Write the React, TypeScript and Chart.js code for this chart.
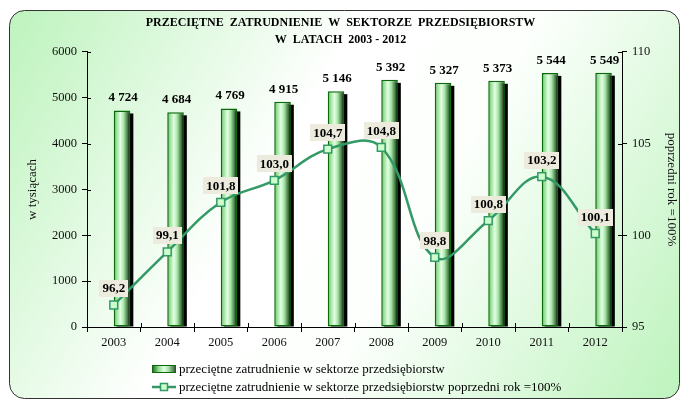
import React, { useEffect, useRef } from 'react';
import { Chart, registerables } from 'chart.js';

Chart.register(...registerables);

const chartTitle = ['PRZECIĘTNE  ZATRUDNIENIE  W  SEKTORZE  PRZEDSIĘBIORSTW', 'W  LATACH  2003 - 2012'];
const years = ['2003', '2004', '2005', '2006', '2007', '2008', '2009', '2010', '2011', '2012'];
const employment = [4724, 4684, 4769, 4915, 5146, 5392, 5327, 5373, 5544, 5549];
const indexPrevYear = [96.2, 99.1, 101.8, 103.0, 104.7, 104.8, 98.8, 100.8, 103.2, 100.1];
const leftAxisTitle = 'w tysiącach';
const rightAxisTitle = 'poprzedni rok =100%';
const barSeriesName = 'przeciętne zatrudnienie w sektorze przedsiębiorstw';
const lineSeriesName = 'przeciętne zatrudnienie w sektorze przedsiębiorstw poprzedni rok =100%';
const leftMin = 0;
const leftMax = 6000;
const leftStep = 1000;
const rightMin = 95;
const rightMax = 110;
const rightStep = 5;

const FONT = "'Liberation Serif', 'Times New Roman', serif";
const CAT_PCT = 0.62;
const LINE_COLOR = '#339966';

const fmtThousands = (v: number) => {
  const s = String(Math.round(v));
  return s.replace(/\B(?=(\d{3})+(?!\d))/g, ' ');
};
const fmtComma = (v: number) => v.toFixed(1).replace('.', ',');

function barGradient(ctx: CanvasRenderingContext2D, x0: number, x1: number) {
  const g = ctx.createLinearGradient(x0, 0, x1, 0);
  g.addColorStop(0, '#2f8f2f');
  g.addColorStop(0.14, '#8fdc8f');
  g.addColorStop(0.4, '#e4ffe4');
  g.addColorStop(0.6, '#a6e6a6');
  g.addColorStop(0.82, '#4c7c4c');
  g.addColorStop(1, '#0e260e');
  return g;
}

const framePlugin = {
  id: 'frame',
  beforeDraw(chart: any) {
    const { ctx, width, height } = chart;
    ctx.save();
    ctx.fillStyle = '#ffffff';
    ctx.fillRect(0, 0, width, height);
    const x0 = 9.5, y0 = 10.5, x1 = 679.5, y1 = 398.5, r = 15;
    ctx.beginPath();
    ctx.moveTo(x0 + r, y0);
    ctx.lineTo(x1 - r, y0);
    ctx.arcTo(x1, y0, x1, y0 + r, r);
    ctx.lineTo(x1, y1 - r);
    ctx.arcTo(x1, y1, x1 - r, y1, r);
    ctx.lineTo(x0 + r, y1);
    ctx.arcTo(x0, y1, x0, y1 - r, r);
    ctx.lineTo(x0, y0 + r);
    ctx.arcTo(x0, y0, x0 + r, y0, r);
    ctx.closePath();
    const g = ctx.createLinearGradient(x0, y0, x1, y1);
    g.addColorStop(0, '#bdf3bd');
    g.addColorStop(0.4, '#ffffff');
    g.addColorStop(0.6, '#fcfffc');
    g.addColorStop(1, '#bdf3bd');
    ctx.fillStyle = g;
    ctx.fill();
    ctx.strokeStyle = '#333333';
    ctx.lineWidth = 1;
    ctx.stroke();
    ctx.restore();
  },
};

const shadowPlugin = {
  id: 'barShadow',
  beforeDatasetDraw(chart: any, args: any) {
    const meta = chart.getDatasetMeta(args.index);
    if (meta.type !== 'bar' || chart.data.datasets[args.index].id !== 'emp') return;
    const { ctx } = chart;
    ctx.save();
    ctx.fillStyle = '#000000';
    meta.data.forEach((el: any) => {
      const { x, y, base, width } = el.getProps(['x', 'y', 'base', 'width'], true);
      ctx.fillRect(x - width / 2 + 3, y + 3, width, base - y - 3);
    });
    ctx.restore();
  },
};

const labelsPlugin = {
  id: 'valueLabels',
  afterDatasetsDraw(chart: any) {
    const { ctx } = chart;
    ctx.save();
    ctx.font = `bold 13px ${FONT}`;
    ctx.textAlign = 'center';
    ctx.textBaseline = 'middle';
    chart.data.datasets.forEach((ds: any, i: number) => {
      const meta = chart.getDatasetMeta(i);
      if (ds.id === 'emp') {
        meta.data.forEach((el: any, j: number) => {
          const { x, y } = el.getProps(['x', 'y'], true);
          ctx.fillStyle = '#000000';
          ctx.fillText(fmtThousands(ds.data[j]), x + 1, y - 12.5);
        });
      }
      if (ds.id === 'idx') {
        meta.data.forEach((el: any, j: number) => {
          const { x, y } = el.getProps(['x', 'y'], true);
          const t = fmtComma(ds.data[j]);
          const w = ctx.measureText(t).width + 6;
          const h = 17;
          const cy = y - 16.5;
          ctx.fillStyle = '#ecebdd';
          ctx.fillRect(Math.round(x - w / 2), Math.round(cy - h / 2), Math.round(w), h);
          ctx.fillStyle = '#000000';
          ctx.fillText(t, x, cy + 0.5);
        });
      }
    });
    ctx.restore();
  },
};

const innerTicksPlugin = {
  id: 'innerTicks',
  afterDraw(chart: any) {
    const { ctx, chartArea, scales } = chart;
    ctx.save();
    ctx.strokeStyle = '#000000';
    ctx.lineWidth = 1;
    ctx.beginPath();
    scales.y.ticks.forEach((_t: any, i: number) => {
      const py = Math.round(scales.y.getPixelForTick(i)) + 0.5;
      ctx.moveTo(chartArea.left, py);
      ctx.lineTo(chartArea.left + 4, py);
    });
    scales.y1.ticks.forEach((_t: any, i: number) => {
      const py = Math.round(scales.y1.getPixelForTick(i)) + 0.5;
      ctx.moveTo(chartArea.right - 4, py);
      ctx.lineTo(chartArea.right, py);
    });
    const n = scales.x.ticks.length;
    for (let i = 0; i <= n; i++) {
      const px = Math.round(scales.x.getPixelForDecimal(i / n)) + 0.5;
      ctx.moveTo(px, chartArea.bottom - 4);
      ctx.lineTo(px, chartArea.bottom);
    }
    ctx.stroke();
    ctx.restore();
  },
};

function ChartCanvas() {
  const ref = useRef<HTMLCanvasElement | null>(null);
  useEffect(() => {
    document.body.style.margin = '0';
    if (!ref.current) return;
    const chart = new Chart(ref.current, {
      type: 'bar',
      data: {
        labels: years,
        datasets: [
          {
            id: 'idx',
            type: 'line',
            label: lineSeriesName,
            data: indexPrevYear,
            yAxisID: 'y1',
            order: 0,
            borderColor: LINE_COLOR,
            borderWidth: 2.5,
            tension: 0.4,
            pointStyle: 'rect',
            pointRadius: 5.5,
            pointBackgroundColor: '#ccffcc',
            pointBorderColor: LINE_COLOR,
            pointBorderWidth: 1.5,
            clip: false,
          } as any,
          {
            id: 'spacer',
            label: '',
            data: years.map(() => null),
            yAxisID: 'y',
            order: 1,
            backgroundColor: '#000000',
          } as any,
          {
            id: 'emp',
            label: barSeriesName,
            data: employment,
            yAxisID: 'y',
            order: 2,
            borderColor: '#0a6a0a',
            borderWidth: 1.5,
            borderSkipped: false,
            backgroundColor: (c: any) => {
              const ch = c.chart;
              const xs = ch.scales && ch.scales.x;
              if (!xs || c.type !== 'data') return '#a6e8a6';
              const center = xs.getPixelForValue(c.dataIndex);
              const slot = (xs.width / years.length) * CAT_PCT / 2;
              if (!isFinite(center) || !isFinite(slot) || slot <= 0) return '#a6e8a6';
              return barGradient(ch.ctx, center, center + slot);
            },
          } as any,
        ],
      },
      options: {
        animation: false,
        responsive: false,
        maintainAspectRatio: false,
        devicePixelRatio: 1,
        layout: { padding: { left: 0, right: 0, top: 0, bottom: 44 } },
        datasets: {
          bar: { categoryPercentage: CAT_PCT, barPercentage: 1 },
        },
        plugins: {
          legend: { display: false },
          tooltip: { enabled: false },
          title: {
            display: true,
            text: chartTitle,
            color: '#000000',
            font: { family: FONT, size: 12, weight: 'bold', lineHeight: 1.4 },
            padding: { top: 15, bottom: 3.4 },
          },
        },
        scales: {
          x: {
            type: 'category',
            offset: true,
            grid: { display: true, drawOnChartArea: false, offset: true, tickLength: 5, color: '#000000' },
            border: { display: true, color: '#000000', width: 1 },
            ticks: { color: '#111111', font: { family: FONT, size: 12.5 }, padding: 3, maxRotation: 0 },
            afterFit: (s: any) => { s.height = 30; },
          },
          y: {
            type: 'linear',
            position: 'left',
            min: leftMin,
            max: leftMax,
            ticks: {
              stepSize: leftStep,
              color: '#111111',
              font: { family: FONT, size: 12.5 },
              padding: 5,
              callback: (v: any) => String(v),
            },
            grid: { display: true, drawOnChartArea: false, tickLength: 5, color: '#000000' },
            border: { display: true, color: '#000000', width: 1 },
            title: {
              display: true,
              text: leftAxisTitle,
              color: '#111111',
              font: { family: FONT, size: 13 },
              padding: { top: 25, bottom: 0 },
            },
            afterFit: (s: any) => { s.width = 87; },
          },
          y1: {
            type: 'linear',
            position: 'right',
            min: rightMin,
            max: rightMax,
            ticks: {
              stepSize: rightStep,
              color: '#111111',
              font: { family: FONT, size: 12.5 },
              padding: 5,
              callback: (v: any) => String(v),
            },
            grid: { display: true, drawOnChartArea: false, tickLength: 5, color: '#000000' },
            border: { display: true, color: '#000000', width: 1 },
            title: {
              display: true,
              text: rightAxisTitle,
              color: '#111111',
              font: { family: FONT, size: 13 },
              padding: { top: 2, bottom: 0 },
            },
            afterFit: (s: any) => { s.width = 59; },
          },
        },
      } as any,
      plugins: [framePlugin, shadowPlugin, labelsPlugin, innerTicksPlugin],
    });
    return () => chart.destroy();
  }, []);
  return <canvas ref={ref} width={681} height={401} style={{ display: 'block', width: 681, height: 401 }} />;
}

function Legend() {
  const textStyle: React.CSSProperties = {
    fontFamily: FONT,
    fontSize: 13,
    color: '#000000',
    lineHeight: '18px',
    whiteSpace: 'nowrap',
  };
  return (
    <div style={{ position: 'absolute', left: 152, top: 360, pointerEvents: 'none' }}>
      <div style={{ display: 'flex', alignItems: 'center', height: 18 }}>
        <div
          style={{
            width: 24,
            height: 8,
            boxSizing: 'border-box',
            border: '1.5px solid #0a6a0a',
            background: 'linear-gradient(to right, #2f6f2f, #8fdc8f 25%, #e4ffe4 50%, #a6e6a6 70%, #3f5f3f)',
            marginRight: 3,
          }}
        />
        <span style={textStyle}>{barSeriesName}</span>
      </div>
      <div style={{ display: 'flex', alignItems: 'center', height: 18 }}>
        <svg width={24} height={10} style={{ marginRight: 3, display: 'block' }}>
          <line x1={0} y1={5} x2={24} y2={5} stroke={LINE_COLOR} strokeWidth={2.5} />
          <rect x={8.5} y={1.5} width={7} height={7} fill="#ccffcc" stroke={LINE_COLOR} strokeWidth={1.5} />
        </svg>
        <span style={textStyle}>{lineSeriesName}</span>
      </div>
    </div>
  );
}

export default function App() {
  return (
    <div style={{ position: 'relative', width: 681, height: 401 }}>
      <ChartCanvas />
      <Legend />
    </div>
  );
}
